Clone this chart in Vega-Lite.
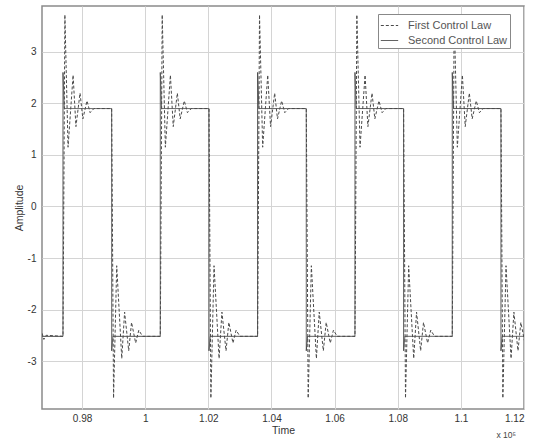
{
  "$schema": "https://vega.github.io/schema/vega-lite/v6.json",
  "width": 482,
  "height": 403,
  "autosize": {"type": "none"},
  "padding": {"left": 42, "top": 6, "right": 9, "bottom": 35},
  "background": "white",
  "config": {
    "font": "Liberation Sans",
    "view": {"stroke": "#8a8a8a", "strokeWidth": 1.5},
    "locale": {"number": {"decimal": ".", "thousands": ",", "grouping": [3], "currency": ["$", ""], "minus": "-"}},
    "axis": {
      "grid": true,
      "gridColor": "#d4d4d4",
      "gridWidth": 1,
      "domain": false,
      "ticks": false,
      "labelFontSize": 10,
      "labelColor": "#333",
      "titleFontSize": 10.5,
      "titleFontWeight": "normal",
      "titleColor": "#333"
    }
  },
  "title": {"text": "x 10⁵", "orient": "bottom", "anchor": "end", "frame": "group", "fontSize": 8.5, "fontWeight": "normal", "color": "#444", "offset": -5, "dx": -8},
  "data": {"values": [
    {"s": "First Control Law", "t": 0.9673, "a": -2.46},
    {"s": "First Control Law", "t": 0.9679, "a": -2.58},
    {"s": "First Control Law", "t": 0.9686, "a": -2.5},
    {"s": "First Control Law", "t": 0.97395, "a": -2.52},
    {"s": "First Control Law", "t": 0.97455, "a": 3.72},
    {"s": "First Control Law", "t": 0.97555, "a": 1.15},
    {"s": "First Control Law", "t": 0.97715, "a": 2.55},
    {"s": "First Control Law", "t": 0.97805, "a": 1.55},
    {"s": "First Control Law", "t": 0.97935, "a": 2.2},
    {"s": "First Control Law", "t": 0.98025, "a": 1.7},
    {"s": "First Control Law", "t": 0.98155, "a": 2.05},
    {"s": "First Control Law", "t": 0.98255, "a": 1.82},
    {"s": "First Control Law", "t": 0.98375, "a": 1.9},
    {"s": "First Control Law", "t": 0.98937, "a": 1.9},
    {"s": "First Control Law", "t": 0.98997, "a": -3.72},
    {"s": "First Control Law", "t": 0.99097, "a": -1.15},
    {"s": "First Control Law", "t": 0.99257, "a": -2.95},
    {"s": "First Control Law", "t": 0.99347, "a": -2.05},
    {"s": "First Control Law", "t": 0.99477, "a": -2.8},
    {"s": "First Control Law", "t": 0.99567, "a": -2.25},
    {"s": "First Control Law", "t": 0.99697, "a": -2.65},
    {"s": "First Control Law", "t": 0.99797, "a": -2.4},
    {"s": "First Control Law", "t": 0.99917, "a": -2.52},
    {"s": "First Control Law", "t": 1.00478, "a": -2.52},
    {"s": "First Control Law", "t": 1.00538, "a": 3.72},
    {"s": "First Control Law", "t": 1.00638, "a": 1.15},
    {"s": "First Control Law", "t": 1.00798, "a": 2.55},
    {"s": "First Control Law", "t": 1.00888, "a": 1.55},
    {"s": "First Control Law", "t": 1.01018, "a": 2.2},
    {"s": "First Control Law", "t": 1.01108, "a": 1.7},
    {"s": "First Control Law", "t": 1.01238, "a": 2.05},
    {"s": "First Control Law", "t": 1.01338, "a": 1.82},
    {"s": "First Control Law", "t": 1.01458, "a": 1.9},
    {"s": "First Control Law", "t": 1.0202, "a": 1.9},
    {"s": "First Control Law", "t": 1.0208, "a": -3.72},
    {"s": "First Control Law", "t": 1.0218, "a": -1.15},
    {"s": "First Control Law", "t": 1.0234, "a": -2.95},
    {"s": "First Control Law", "t": 1.0243, "a": -2.05},
    {"s": "First Control Law", "t": 1.0256, "a": -2.8},
    {"s": "First Control Law", "t": 1.0265, "a": -2.25},
    {"s": "First Control Law", "t": 1.0278, "a": -2.65},
    {"s": "First Control Law", "t": 1.0288, "a": -2.4},
    {"s": "First Control Law", "t": 1.03, "a": -2.52},
    {"s": "First Control Law", "t": 1.03561, "a": -2.52},
    {"s": "First Control Law", "t": 1.03621, "a": 3.72},
    {"s": "First Control Law", "t": 1.03721, "a": 1.15},
    {"s": "First Control Law", "t": 1.03881, "a": 2.55},
    {"s": "First Control Law", "t": 1.03971, "a": 1.55},
    {"s": "First Control Law", "t": 1.04101, "a": 2.2},
    {"s": "First Control Law", "t": 1.04191, "a": 1.7},
    {"s": "First Control Law", "t": 1.04321, "a": 2.05},
    {"s": "First Control Law", "t": 1.04421, "a": 1.82},
    {"s": "First Control Law", "t": 1.04541, "a": 1.9},
    {"s": "First Control Law", "t": 1.05103, "a": 1.9},
    {"s": "First Control Law", "t": 1.05163, "a": -3.72},
    {"s": "First Control Law", "t": 1.05263, "a": -1.15},
    {"s": "First Control Law", "t": 1.05423, "a": -2.95},
    {"s": "First Control Law", "t": 1.05513, "a": -2.05},
    {"s": "First Control Law", "t": 1.05643, "a": -2.8},
    {"s": "First Control Law", "t": 1.05733, "a": -2.25},
    {"s": "First Control Law", "t": 1.05863, "a": -2.65},
    {"s": "First Control Law", "t": 1.05963, "a": -2.4},
    {"s": "First Control Law", "t": 1.06083, "a": -2.52},
    {"s": "First Control Law", "t": 1.06645, "a": -2.52},
    {"s": "First Control Law", "t": 1.06705, "a": 3.72},
    {"s": "First Control Law", "t": 1.06805, "a": 1.15},
    {"s": "First Control Law", "t": 1.06965, "a": 2.55},
    {"s": "First Control Law", "t": 1.07055, "a": 1.55},
    {"s": "First Control Law", "t": 1.07185, "a": 2.2},
    {"s": "First Control Law", "t": 1.07275, "a": 1.7},
    {"s": "First Control Law", "t": 1.07405, "a": 2.05},
    {"s": "First Control Law", "t": 1.07505, "a": 1.82},
    {"s": "First Control Law", "t": 1.07625, "a": 1.9},
    {"s": "First Control Law", "t": 1.08186, "a": 1.9},
    {"s": "First Control Law", "t": 1.08246, "a": -3.72},
    {"s": "First Control Law", "t": 1.08346, "a": -1.15},
    {"s": "First Control Law", "t": 1.08506, "a": -2.95},
    {"s": "First Control Law", "t": 1.08596, "a": -2.05},
    {"s": "First Control Law", "t": 1.08726, "a": -2.8},
    {"s": "First Control Law", "t": 1.08816, "a": -2.25},
    {"s": "First Control Law", "t": 1.08946, "a": -2.65},
    {"s": "First Control Law", "t": 1.09046, "a": -2.4},
    {"s": "First Control Law", "t": 1.09166, "a": -2.52},
    {"s": "First Control Law", "t": 1.09728, "a": -2.52},
    {"s": "First Control Law", "t": 1.09788, "a": 3.72},
    {"s": "First Control Law", "t": 1.09888, "a": 1.15},
    {"s": "First Control Law", "t": 1.10048, "a": 2.55},
    {"s": "First Control Law", "t": 1.10138, "a": 1.55},
    {"s": "First Control Law", "t": 1.10268, "a": 2.2},
    {"s": "First Control Law", "t": 1.10358, "a": 1.7},
    {"s": "First Control Law", "t": 1.10488, "a": 2.05},
    {"s": "First Control Law", "t": 1.10588, "a": 1.82},
    {"s": "First Control Law", "t": 1.10708, "a": 1.9},
    {"s": "First Control Law", "t": 1.1127, "a": 1.9},
    {"s": "First Control Law", "t": 1.1133, "a": -3.72},
    {"s": "First Control Law", "t": 1.1143, "a": -1.15},
    {"s": "First Control Law", "t": 1.1159, "a": -2.95},
    {"s": "First Control Law", "t": 1.1168, "a": -2.05},
    {"s": "First Control Law", "t": 1.1181, "a": -2.8},
    {"s": "First Control Law", "t": 1.119, "a": -2.25},
    {"s": "First Control Law", "t": 1.1203, "a": -2.65},
    {"s": "Second Control Law", "t": 0.9673, "a": -2.52},
    {"s": "Second Control Law", "t": 0.97394, "a": -2.52},
    {"s": "Second Control Law", "t": 0.97395, "a": 2.6},
    {"s": "Second Control Law", "t": 0.97435, "a": 1.9},
    {"s": "Second Control Law", "t": 0.98936, "a": 1.9},
    {"s": "Second Control Law", "t": 0.98937, "a": -2.8},
    {"s": "Second Control Law", "t": 0.98977, "a": -2.52},
    {"s": "Second Control Law", "t": 1.00477, "a": -2.52},
    {"s": "Second Control Law", "t": 1.00478, "a": 2.6},
    {"s": "Second Control Law", "t": 1.00518, "a": 1.9},
    {"s": "Second Control Law", "t": 1.02019, "a": 1.9},
    {"s": "Second Control Law", "t": 1.0202, "a": -2.8},
    {"s": "Second Control Law", "t": 1.0206, "a": -2.52},
    {"s": "Second Control Law", "t": 1.0356, "a": -2.52},
    {"s": "Second Control Law", "t": 1.03561, "a": 2.6},
    {"s": "Second Control Law", "t": 1.03601, "a": 1.9},
    {"s": "Second Control Law", "t": 1.05102, "a": 1.9},
    {"s": "Second Control Law", "t": 1.05103, "a": -2.8},
    {"s": "Second Control Law", "t": 1.05143, "a": -2.52},
    {"s": "Second Control Law", "t": 1.06644, "a": -2.52},
    {"s": "Second Control Law", "t": 1.06645, "a": 2.6},
    {"s": "Second Control Law", "t": 1.06685, "a": 1.9},
    {"s": "Second Control Law", "t": 1.08185, "a": 1.9},
    {"s": "Second Control Law", "t": 1.08186, "a": -2.8},
    {"s": "Second Control Law", "t": 1.08226, "a": -2.52},
    {"s": "Second Control Law", "t": 1.09727, "a": -2.52},
    {"s": "Second Control Law", "t": 1.09728, "a": 2.6},
    {"s": "Second Control Law", "t": 1.09768, "a": 1.9},
    {"s": "Second Control Law", "t": 1.11269, "a": 1.9},
    {"s": "Second Control Law", "t": 1.1127, "a": -2.8},
    {"s": "Second Control Law", "t": 1.1131, "a": -2.52},
    {"s": "Second Control Law", "t": 1.12, "a": -2.52}
  ]},
  "mark": {"type": "line", "clip": true, "strokeWidth": 1, "color": "#4a4a4a"},
  "encoding": {
    "x": {
      "field": "t", "type": "quantitative",
      "scale": {"domain": [0.9673, 1.12], "nice": false, "zero": false},
      "axis": {"title": "Time", "values": [0.98, 1, 1.02, 1.04, 1.06, 1.08, 1.1, 1.12], "format": ".2~f", "labelPadding": 4, "titlePadding": 2}
    },
    "y": {
      "field": "a", "type": "quantitative",
      "scale": {"domain": [-3.93, 3.89], "nice": false, "zero": false},
      "axis": {"title": "Amplitude", "values": [-3, -2, -1, 0, 1, 2, 3], "format": "d", "labelPadding": 6, "titlePadding": 3}
    },
    "strokeDash": {
      "field": "s", "type": "nominal",
      "scale": {"domain": ["First Control Law", "Second Control Law"], "range": [[3, 2], [1, 0]]},
      "legend": {
        "orient": "none", "legendX": 336, "legendY": 8, "title": null,
        "fillColor": "white", "strokeColor": "#888", "padding": 2,
        "labelFontSize": 11, "labelColor": "#555", "labelOffset": 9,
        "symbolType": "stroke", "symbolStrokeWidth": 1, "symbolSize": 300,
        "symbolStrokeColor": "#4a4a4a", "rowPadding": 0
      }
    }
  }
}
